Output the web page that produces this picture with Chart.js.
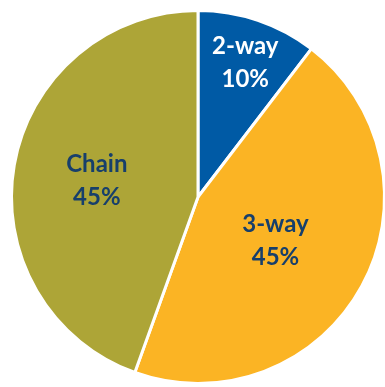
<!DOCTYPE html>
<html>
<head>
<meta charset="utf-8">
<script src="https://cdn.jsdelivr.net/npm/chart.js@4/dist/chart.umd.min.js"></script>
<style>
    html, body { margin: 0; padding: 0; background: #fff; overflow: hidden; }
    #wrap { position: absolute; left: 0; top: 0; width: 400px; height: 387px; }
</style>
</head>
<body>
<div id="wrap"><canvas id="pieChart"></canvas></div>
<script>
// Chart data (slice sizes; labels show rounded %)
const categories = ['2-way', '3-way', 'Chain'];
const shares = [10.4, 45.1, 44.5];
const sliceColors = ['#005aa5', '#fbb424', '#ada537'];
const labelColors = ['#ffffff', '#173f6b', '#173f6b'];
// label placement: fraction of radius, and small angle nudge (degrees)
const labelRadius = [0.766, 0.476, 0.55];
const labelNudge = [0.6, 0.6, -0.4];

// draws "name / pct%" inside each slice
const sliceLabels = {
    id: 'sliceLabels',
    afterDatasetsDraw(chart) {
        const ctx = chart.ctx;
        const meta = chart.getDatasetMeta(0);
        ctx.save();
        ctx.font = 'bold 24px Lato, "Open Sans", sans-serif';
        ctx.textAlign = 'center';
        ctx.textBaseline = 'middle';
        meta.data.forEach((arc, i) => {
            const mid = (arc.startAngle + arc.endAngle) / 2 + labelNudge[i] * Math.PI / 180;
            const r = arc.outerRadius * labelRadius[i];
            const x = arc.x + Math.cos(mid) * r;
            const y = arc.y + Math.sin(mid) * r;
            ctx.fillStyle = labelColors[i];
            ctx.fillText(categories[i], x, y - 16);
            ctx.fillText(Math.round(shares[i]) + '%', x, y + 17);
        });
        ctx.restore();
    }
};

new Chart(document.getElementById('pieChart'), {
    type: 'pie',
    data: {
        labels: categories,
        datasets: [{
            data: shares,
            backgroundColor: sliceColors,
            borderColor: '#ffffff',
            borderWidth: 3
        }]
    },
    options: {
        responsive: true,
        maintainAspectRatio: false,
        animation: false,
        layout: { padding: { top: 9, bottom: 2, left: 10, right: 14 } },
        plugins: {
            legend: { display: false },
            tooltip: { enabled: false }
        }
    },
    plugins: [sliceLabels]
});
</script>
</body>
</html>
